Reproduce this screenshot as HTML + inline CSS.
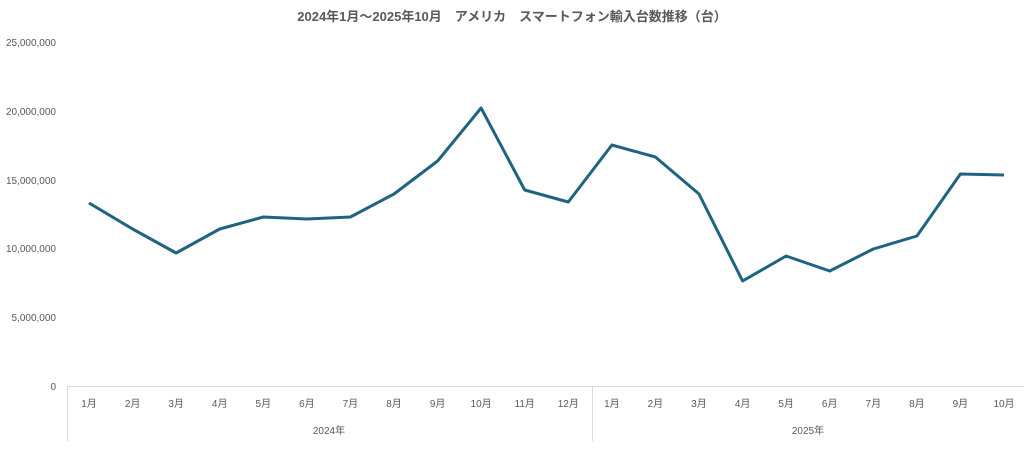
<!DOCTYPE html>
<html><head><meta charset="utf-8"><style>
body{margin:0;background:#fff;}
svg text{font-family:"Liberation Sans","Noto Sans CJK JP",sans-serif;fill:#595959;}
</style></head><body>
<svg width="1024" height="444" viewBox="0 0 1024 444" xmlns="http://www.w3.org/2000/svg">
<text x="512" y="21" text-anchor="middle" font-size="13" font-weight="bold">2024年1月～2025年10月　アメリカ　スマートフォン輸入台数推移（台）</text>
<g font-size="10" text-anchor="end">
<text x="56" y="46">25,000,000</text>
<text x="56" y="115">20,000,000</text>
<text x="56" y="184">15,000,000</text>
<text x="56" y="252">10,000,000</text>
<text x="56" y="321">5,000,000</text>
<text x="56" y="390">0</text>
</g>
<g stroke="#d9d9d9" stroke-width="1">
<line x1="67" y1="386.5" x2="1024" y2="386.5"/>
<line x1="67.5" y1="386" x2="67.5" y2="441"/>
<line x1="592.5" y1="386" x2="592.5" y2="441"/>
</g>
<g font-size="10" text-anchor="middle">
<text x="89" y="407">1月</text><text x="132.6" y="407">2月</text><text x="176.1" y="407">3月</text><text x="219.7" y="407">4月</text><text x="263.3" y="407">5月</text><text x="306.9" y="407">6月</text><text x="350.4" y="407">7月</text><text x="394" y="407">8月</text><text x="437.6" y="407">9月</text><text x="481.1" y="407">10月</text><text x="524.7" y="407">11月</text><text x="568.3" y="407">12月</text>
<text x="611.9" y="407">1月</text><text x="655.4" y="407">2月</text><text x="699" y="407">3月</text><text x="742.6" y="407">4月</text><text x="786.1" y="407">5月</text><text x="829.7" y="407">6月</text><text x="873.3" y="407">7月</text><text x="916.9" y="407">8月</text><text x="960.4" y="407">9月</text><text x="1004" y="407">10月</text>
<text x="329" y="434">2024年</text><text x="808" y="434">2025年</text>
</g>
<polyline fill="none" stroke="#1f6380" stroke-width="3" stroke-linejoin="round" points="89,203 132.6,229 176.1,253 219.7,229 263.3,217 306.9,219 350.4,217 394,194 437.6,161 481.1,108 524.7,190 568.3,202 611.9,145 655.4,157 699,194 742.6,281 786.1,256 829.7,271 873.3,249 916.9,236 960.4,174 1004,175"/>
</svg>
</body></html>
